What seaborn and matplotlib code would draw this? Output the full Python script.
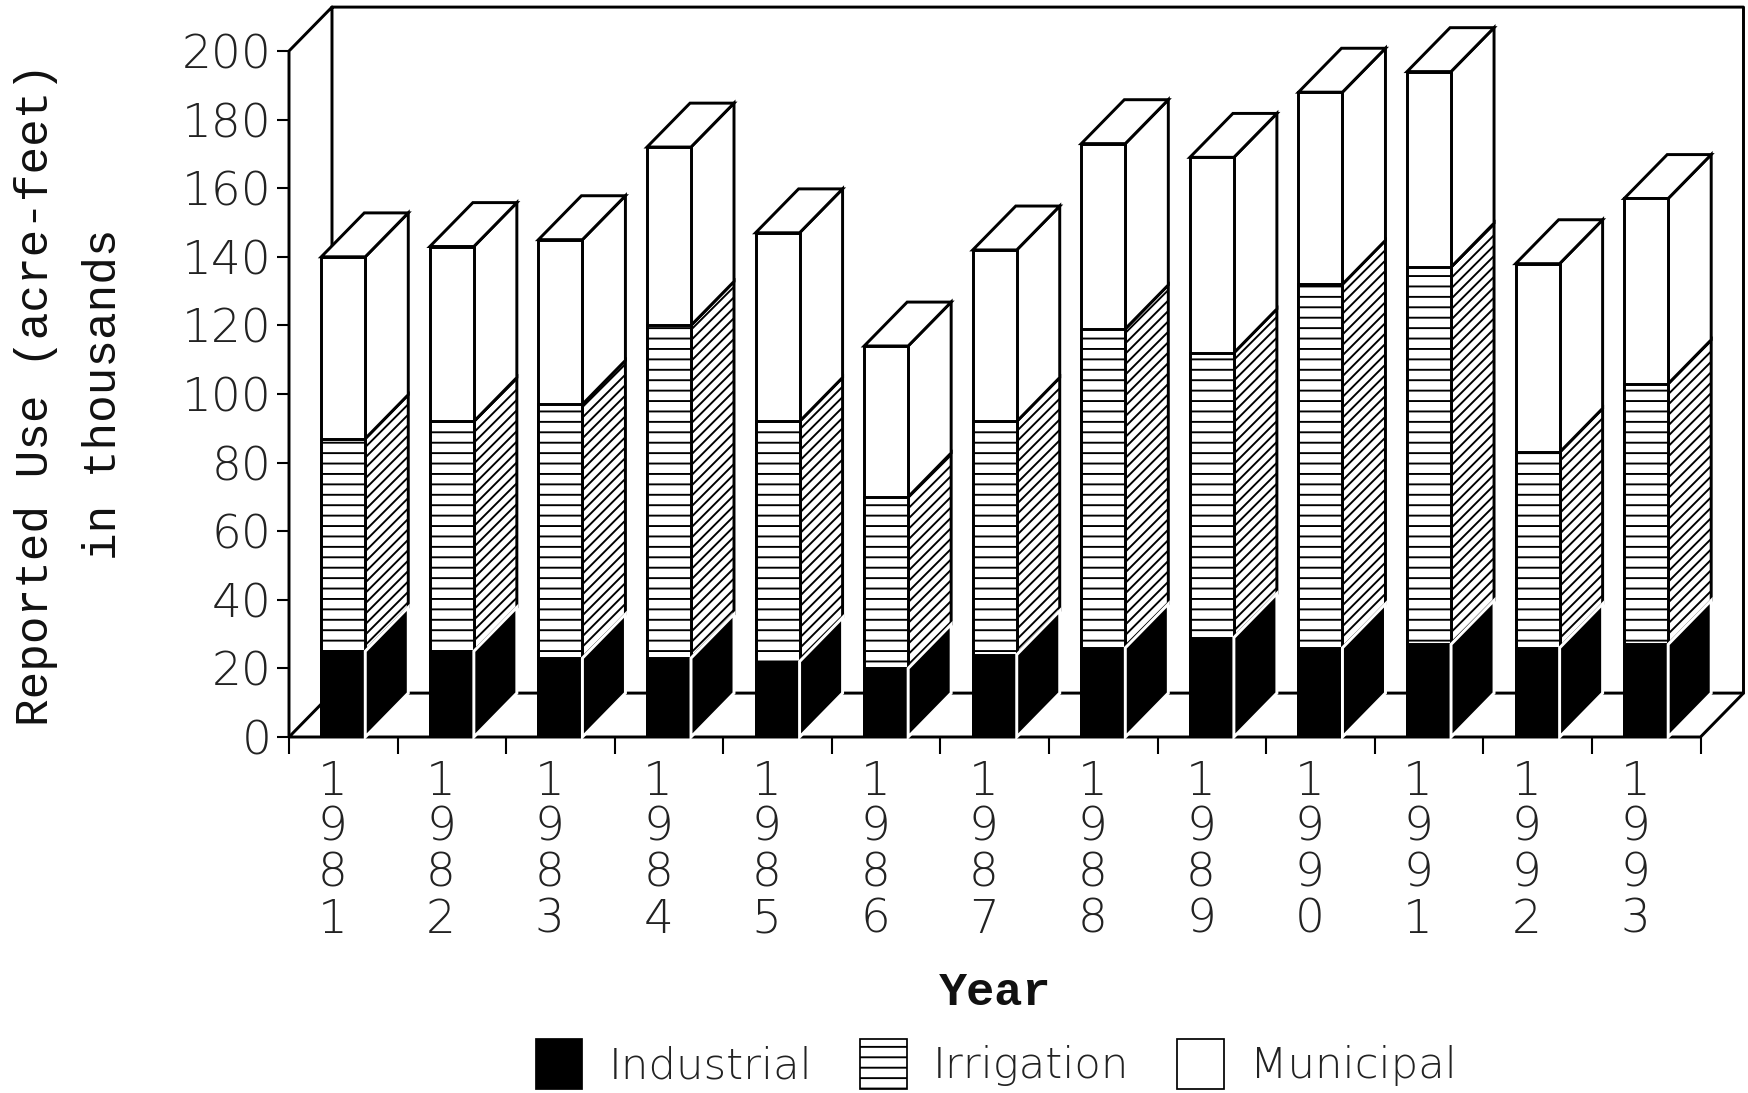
import pandas as pd
import numpy as np
import matplotlib
matplotlib.use("Agg")
import matplotlib.pyplot as plt
from matplotlib.patches import Patch
import seaborn as sns

# Data (thousands of acre-feet)
years = ["1981", "1982", "1983", "1984", "1985", "1986", "1987",
         "1988", "1989", "1990", "1991", "1992", "1993"]
industrial = [25, 25, 23, 23, 22, 20, 24, 26, 29, 26, 27, 26, 27]
irrigation = [62, 67, 74, 97, 70, 50, 68, 93, 83, 106, 110, 57, 76]
municipal = [53, 51, 48, 52, 55, 44, 50, 54, 57, 56, 57, 55, 54]
y_ticks = list(range(0, 201, 20))

# Oblique depth of the fake 3D, in data units
DEPTH_X = 0.396
DEPTH_Y = 12.8
BAR_W = 0.405

sns.set_theme(style="white")
plt.rcParams["font.family"] = ["DejaVu Sans"]
plt.rcParams["hatch.linewidth"] = 1.1
plt.rcParams["hatch.color"] = "black"

df = pd.DataFrame({"year": years, "industrial": industrial,
                   "irrigation": irrigation, "municipal": municipal})
df["top_ind"] = df["industrial"]
df["top_irr"] = df["top_ind"] + df["irrigation"]
df["top_mun"] = df["top_irr"] + df["municipal"]

fig = plt.figure(figsize=(1748 / 125, 1093 / 125), dpi=125, facecolor="white")
ax = fig.add_axes([289 / 1748, 1 - 737 / 1093, (1700.5 - 289) / 1748, (737 - 51) / 1093])

LW = 1.7

# front faces, tallest first so each stack shows through
sns.barplot(data=df, x="year", y="top_mun", color="white", saturation=1, width=BAR_W,
            edgecolor="black", linewidth=LW, ax=ax, zorder=3)
sns.barplot(data=df, x="year", y="top_irr", color="white", saturation=1, width=BAR_W,
            edgecolor="black", linewidth=LW, hatch="--", ax=ax, zorder=3)
sns.barplot(data=df, x="year", y="top_ind", color="black", saturation=1, width=BAR_W,
            edgecolor="black", linewidth=LW, ax=ax, zorder=3)

# side and top faces (the black side sits on top so its white edge splits it from the front)
for i, row in df.iterrows():
    x1 = i + BAR_W / 2
    x0 = i - BAR_W / 2
    segs = [(0, row["top_ind"], "black", "white", None, 3.5),
            (row["top_ind"], row["top_irr"], "white", "black", "////", 2.5),
            (row["top_irr"], row["top_mun"], "white", "black", None, 2.5)]
    for lo, hi, fc, ec, hatch, z in segs:
        ax.fill([x1, x1 + DEPTH_X, x1 + DEPTH_X, x1],
                [lo, lo + DEPTH_Y, hi + DEPTH_Y, hi],
                facecolor=fc, edgecolor=ec, hatch=hatch, linewidth=LW,
                clip_on=False, zorder=z)
    top = row["top_mun"]
    ax.fill([x0, x1, x1 + DEPTH_X, x0 + DEPTH_X],
            [top, top, top + DEPTH_Y, top + DEPTH_Y],
            facecolor="white", edgecolor="black", linewidth=LW, clip_on=False, zorder=2.5)

# walls and floor
x_l, x_r = -0.5, 12.5
y_t = y_ticks[-1]
ax.plot([x_l, x_l, x_l + DEPTH_X, x_r + DEPTH_X, x_r + DEPTH_X, x_l + DEPTH_X, x_l + DEPTH_X],
        [0, y_t, y_t + DEPTH_Y, y_t + DEPTH_Y, DEPTH_Y, DEPTH_Y, y_t + DEPTH_Y],
        color="black", lw=LW, clip_on=False, zorder=1)
ax.plot([x_l + DEPTH_X, x_l, x_r, x_r + DEPTH_X], [DEPTH_Y, 0, 0, DEPTH_Y],
        color="black", lw=LW, clip_on=False, zorder=1)

ax.set_xlim(x_l, x_r)
ax.set_ylim(0, y_t)
sns.despine(ax=ax, left=True, bottom=True, top=True, right=True)

# ticks on the category boundaries, labels a little left of the bar centres
ax.set_xticks(np.arange(x_l, x_r + 0.5, 1))
ax.set_xticklabels([])
ax.set_xticks(np.arange(len(years)) - 0.1, ["\n".join(y) for y in years], minor=True)
ax.tick_params(axis="x", which="major", length=9.8, width=1.2, color="black", bottom=True)
ax.tick_params(axis="x", which="minor", length=0, pad=13, labelsize=27, labelcolor="#222222", bottom=True)
for lab in ax.get_xticklabels(minor=True):
    lab.set_linespacing(1.06)
    lab.set_fontweight("light")
ax.set_yticks(y_ticks)
ax.tick_params(axis="y", length=6.9, width=1.2, color="black", pad=3, labelsize=27,
               labelcolor="#222222", left=True)
for lab in ax.get_yticklabels():
    lab.set_fontweight("light")

ax.set_ylabel("Reported Use (acre-feet)\nin thousands", family="Liberation Mono", fontsize=26.5,
              labelpad=32, linespacing=1.73, color="#111111")
ax.set_xlabel("Year", family="Liberation Mono", fontsize=27, labelpad=17,
              fontweight="bold", color="#111111")

handles = [Patch(facecolor="black", edgecolor="black", label="Industrial"),
           Patch(facecolor="white", edgecolor="black", hatch="--", label="Irrigation"),
           Patch(facecolor="white", edgecolor="black", label="Municipal")]
fig.legend(handles=handles, ncol=3, loc="center", bbox_to_anchor=(996 / 1748, 1 - 1064 / 1093),
           frameon=False, prop={"size": 25, "weight": "light"}, handlelength=1.08, handleheight=1.36,
           handletextpad=0.6, columnspacing=1.1, labelcolor="#222222", borderpad=0)

fig.savefig("out.png", dpi=125, facecolor="white")
